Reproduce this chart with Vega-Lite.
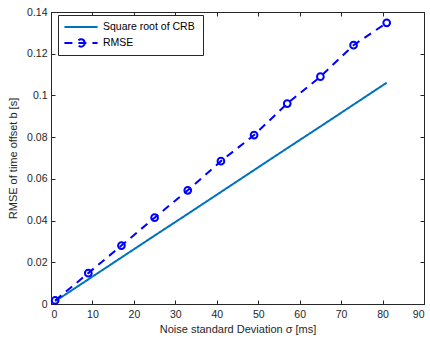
{
  "$schema": "https://vega.github.io/schema/vega-lite/v6.json",
  "width": 373,
  "height": 292,
  "autosize": {"type": "none"},
  "padding": {"left": 51, "top": 12, "right": 6, "bottom": 41},
  "background": "white",
  "config": {
    "font": "Liberation Sans",
    "view": {"stroke": "#262626", "strokeWidth": 1},
    "axis": {
      "grid": false,
      "domainColor": "#262626",
      "tickColor": "#262626",
      "tickSize": -4,
      "labelColor": "#262626",
      "labelFontSize": 10.5,
      "titleColor": "#262626",
      "titleFontSize": 11,
      "titleFontWeight": "normal",
      "labelFont": "Liberation Sans",
      "titleFont": "Liberation Sans"
    }
  },
  "data": {
    "values": [
      {"sigma": 1, "series": "Square root of  CRB", "rmse": 0.0013},
      {"sigma": 9, "series": "Square root of  CRB", "rmse": 0.0118},
      {"sigma": 17, "series": "Square root of  CRB", "rmse": 0.0223},
      {"sigma": 25, "series": "Square root of  CRB", "rmse": 0.0328},
      {"sigma": 33, "series": "Square root of  CRB", "rmse": 0.0432},
      {"sigma": 41, "series": "Square root of  CRB", "rmse": 0.0537},
      {"sigma": 49, "series": "Square root of  CRB", "rmse": 0.0642},
      {"sigma": 57, "series": "Square root of  CRB", "rmse": 0.0747},
      {"sigma": 65, "series": "Square root of  CRB", "rmse": 0.0851},
      {"sigma": 73, "series": "Square root of  CRB", "rmse": 0.0956},
      {"sigma": 81, "series": "Square root of  CRB", "rmse": 0.1061},
      {"sigma": 1, "series": "RMSE", "rmse": 0.0017},
      {"sigma": 9, "series": "RMSE", "rmse": 0.0148},
      {"sigma": 17, "series": "RMSE", "rmse": 0.028},
      {"sigma": 25, "series": "RMSE", "rmse": 0.0414},
      {"sigma": 33, "series": "RMSE", "rmse": 0.0545},
      {"sigma": 41, "series": "RMSE", "rmse": 0.0685},
      {"sigma": 49, "series": "RMSE", "rmse": 0.081},
      {"sigma": 57, "series": "RMSE", "rmse": 0.0961},
      {"sigma": 65, "series": "RMSE", "rmse": 0.109},
      {"sigma": 73, "series": "RMSE", "rmse": 0.1241},
      {"sigma": 81, "series": "RMSE", "rmse": 0.1348}
    ]
  },
  "layer": [
    {
      "mark": {"type": "line", "strokeWidth": 2},
      "encoding": {
        "x": {
          "field": "sigma", "type": "quantitative",
          "scale": {"domain": [0, 90], "nice": false, "zero": false},
          "axis": {"values": [0,10,20,30,40,50,60,70,80,90], "title": "Noise standard Deviation σ [ms]", "titlePadding": 4, "labelPadding": 9}
        },
        "y": {
          "field": "rmse", "type": "quantitative",
          "scale": {"domain": [0, 0.14], "nice": false},
          "axis": {"values": [0,0.02,0.04,0.06,0.08,0.1,0.12,0.14], "format": "~g", "title": "RMSE of time offset b [s]", "titlePadding": 8, "labelPadding": 8}
        },
        "color": {
          "field": "series", "type": "nominal",
          "scale": {"domain": ["Square root of  CRB", "RMSE"], "range": ["#0072BD", "#0000FF"]},
          "legend": {
            "title": null,
            "orient": "none",
            "legendX": 7,
            "legendY": 3,
            "symbolType": "stroke",
            "symbolSize": 1100,
            "symbolStrokeWidth": 2,
            "labelFontSize": 10.5,
            "labelColor": "#000000",
            "strokeColor": "#262626",
            "fillColor": "white",
            "padding": 5,
            "rowPadding": 2,
            "clipHeight": 14,
            "labelOffset": 4,
            "encode": {
              "symbols": {
                "update": {
                  "shape": {"signal": "datum.value === 'RMSE' ? 'M-1,0H1M0.22,0A0.22,0.22 0 1,1 -0.22,0A0.22,0.22 0 1,1 0.22,0' : 'stroke'"}
                }
              }
            }
          }
        },
        "strokeDash": {
          "field": "series", "type": "nominal",
          "scale": {"domain": ["Square root of  CRB", "RMSE"], "range": [[1, 0], [8, 6]]},
          "legend": {
            "title": null,
            "orient": "none",
            "legendX": 7,
            "legendY": 3,
            "symbolType": "stroke",
            "symbolSize": 1100,
            "symbolStrokeWidth": 2,
            "labelFontSize": 10.5,
            "labelColor": "#000000",
            "strokeColor": "#262626",
            "fillColor": "white",
            "padding": 5,
            "rowPadding": 2,
            "clipHeight": 14,
            "labelOffset": 4,
            "encode": {
              "symbols": {
                "update": {
                  "shape": {"signal": "datum.value === 'RMSE' ? 'M-1,0H1M0.22,0A0.22,0.22 0 1,1 -0.22,0A0.22,0.22 0 1,1 0.22,0' : 'stroke'"}
                }
              }
            }
          }
        }
      }
    },
    {
      "transform": [{"filter": "datum.series == 'RMSE'"}],
      "mark": {"type": "point", "filled": false, "shape": "circle", "size": 45, "strokeWidth": 2, "color": "#0000FF", "opacity": 1},
      "encoding": {
        "x": {"field": "sigma", "type": "quantitative", "axis": null},
        "y": {"field": "rmse", "type": "quantitative", "axis": null}
      }
    },
    {
      "mark": {"type": "rule", "opacity": 0},
      "encoding": {
        "x": {
          "field": "sigma", "type": "quantitative",
          "axis": {"orient": "top", "labels": false, "title": null, "values": [0,10,20,30,40,50,60,70,80,90], "domain": false}
        },
        "y": {
          "field": "rmse", "type": "quantitative",
          "axis": {"orient": "right", "labels": false, "title": null, "values": [0,0.02,0.04,0.06,0.08,0.1,0.12,0.14], "domain": false}
        }
      }
    }
  ],
  "resolve": {"axis": {"x": "independent", "y": "independent"}}
}
